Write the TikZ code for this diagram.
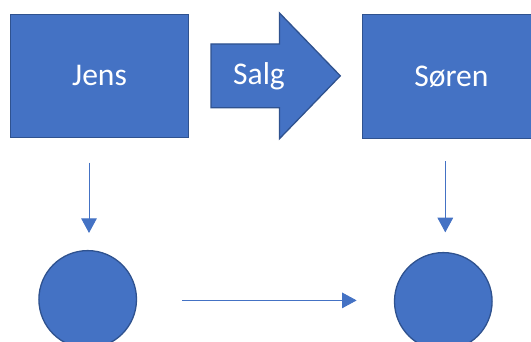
\documentclass[tikz,border=0pt]{standalone}
\usepackage{fontspec}
\setmainfont{Carlito}
\usetikzlibrary{arrows.meta}
\definecolor{fillblue}{HTML}{4472C4}
\definecolor{edgeblue}{HTML}{2F528F}
\tikzset{
  box/.style={draw=edgeblue, fill=fillblue, line width=1.3pt},
  lbl/.style={text=white, font=\fontsize{31.6}{36}\selectfont, inner sep=0pt},
  conn/.style={draw=fillblue, line width=0.9pt, -{Triangle[width=15.6pt,length=14.6pt]}},
}
\begin{document}
\begin{tikzpicture}[x=1pt,y=-1pt]
\useasboundingbox (0,0) rectangle (531,342);
% rectangles
\draw[box] (10.8,14.2) rectangle (188.3,137.5);
\node[inner sep=0pt, minimum width=177.5pt, minimum height=123.3pt] (jens) at (99.55,75.85) {};
\node[lbl] at (jens) {Jens};
\draw[box] (362.7,14.6) rectangle (540.2,138.2);
\node[inner sep=0pt, minimum width=177.5pt, minimum height=123.6pt] (soren) at (451.45,76.4) {};
\node[lbl] at (soren) {Søren};
% big arrow
\draw[box, line join=miter] (211,44) -- (279.4,44) -- (279.4,12.9) -- (340.3,75.85) -- (279.4,138.8) -- (279.4,107.7) -- (211,107.7) -- cycle;
\node[lbl] (salg) at (259,75.85) {Salg};
% circles
\node[box, circle, minimum size=97.6pt, inner sep=0pt] (c1) at (87.7,299.4) {};
\node[box, circle, minimum size=97.6pt, inner sep=0pt] (c2) at (443.3,301.4) {};
% connectors
\draw[conn, shorten <=25pt, shorten >=17pt] ([xshift=1.3pt]c1 |- jens.south) -- ([xshift=1.3pt]c1.north);
\draw[conn, shorten <=22.8pt, shorten >=19.6pt] ([xshift=2pt]c2 |- soren.south) -- ([xshift=2pt]c2.north);
\draw[conn, shorten <=45.3pt, shorten >=37.2pt] ([yshift=-1pt]c1.east) -- ([yshift=-1pt]c2.west |- c1.east);
\end{tikzpicture}
\end{document}
